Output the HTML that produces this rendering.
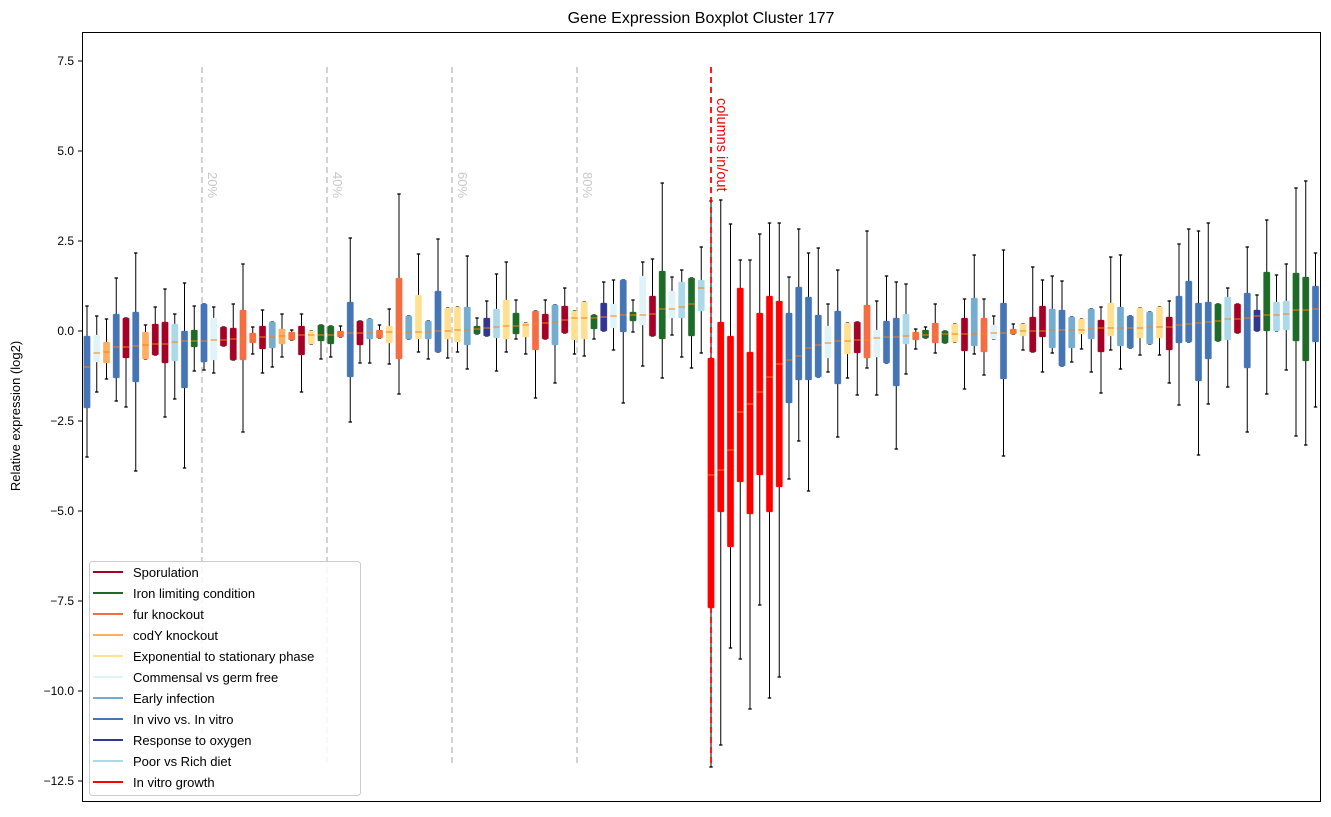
<!DOCTYPE html>
<html><head><meta charset="utf-8"><style>
body{margin:0;background:#fff;}
svg text{font-family:"Liberation Sans","DejaVu Sans",sans-serif;}
</style></head><body>
<svg id="s" width="1331" height="812" xmlns="http://www.w3.org/2000/svg">
<rect x="0" y="0" width="1331" height="812" fill="#fff"/>
<text x="701" y="23" font-size="16" text-anchor="middle" fill="#000">Gene Expression Boxplot Cluster 177</text>
<g id="grid"></g>
<g id="boxes"></g>
<g stroke="#000" stroke-width="1">
<line x1="78" y1="61" x2="82" y2="61"/><line x1="78" y1="151" x2="82" y2="151"/><line x1="78" y1="241" x2="82" y2="241"/><line x1="78" y1="331" x2="82" y2="331"/><line x1="78" y1="421" x2="82" y2="421"/><line x1="78" y1="511" x2="82" y2="511"/><line x1="78" y1="601" x2="82" y2="601"/><line x1="78" y1="691" x2="82" y2="691"/><line x1="78" y1="781" x2="82" y2="781"/>
</g>
<g font-size="12" text-anchor="end" fill="#000">
<text x="74" y="65">7.5</text><text x="74" y="155">5.0</text><text x="74" y="245">2.5</text><text x="74" y="335">0.0</text><text x="74" y="425">−2.5</text><text x="74" y="515">−5.0</text><text x="74" y="605">−7.5</text><text x="74" y="695">−10.0</text><text x="74" y="785">−12.5</text>
</g>
<text transform="translate(20,416) rotate(-90)" font-size="13" text-anchor="middle">Relative expression (log2)</text>
<g font-size="13" fill="#c8c8c8">
<text transform="translate(208,172) rotate(90)">20%</text>
<text transform="translate(333,172) rotate(90)">40%</text>
<text transform="translate(458,172) rotate(90)">60%</text>
<text transform="translate(583,172) rotate(90)">80%</text>
</g>
<text transform="translate(717,98) rotate(90)" font-size="14.5" fill="#ff0000">columns in/out</text>
<rect x="82.5" y="32.5" width="1238" height="769" fill="none" stroke="#000" stroke-width="1"/>
<g>
<rect x="89.5" y="561.5" width="271" height="234" rx="3" fill="#fff" fill-opacity="0.85" stroke="#ccc"/>
<g stroke-width="2">
<line x1="93" y1="572" x2="123" y2="572" stroke="#a50026"/>
<line x1="93" y1="593" x2="123" y2="593" stroke="#1e6b28"/>
<line x1="93" y1="614" x2="123" y2="614" stroke="#f46d43"/>
<line x1="93" y1="635" x2="123" y2="635" stroke="#fdae61"/>
<line x1="93" y1="656" x2="123" y2="656" stroke="#fee090"/>
<line x1="93" y1="677" x2="123" y2="677" stroke="#e0f3f8"/>
<line x1="93" y1="698" x2="123" y2="698" stroke="#74add1"/>
<line x1="93" y1="719" x2="123" y2="719" stroke="#4575b4"/>
<line x1="93" y1="740" x2="123" y2="740" stroke="#313695"/>
<line x1="93" y1="761" x2="123" y2="761" stroke="#abd9e9"/>
<line x1="93" y1="782" x2="123" y2="782" stroke="#ff0000"/>
</g>
<g font-size="13" fill="#000">
<text x="133" y="577">Sporulation</text>
<text x="133" y="598">Iron limiting condition</text>
<text x="133" y="619">fur knockout</text>
<text x="133" y="640">codY knockout</text>
<text x="133" y="661">Exponential to stationary phase</text>
<text x="133" y="682">Commensal vs germ free</text>
<text x="133" y="703">Early infection</text>
<text x="133" y="724">In vivo vs. In vitro</text>
<text x="133" y="745">Response to oxygen</text>
<text x="133" y="766">Poor vs Rich diet</text>
<text x="133" y="787">In vitro growth</text>
</g>
</g>
</svg>
<script>
var C={R:"#a50026",G:"#1e6b28",O:"#f46d43",L:"#fdae61",Y:"#fee090",C:"#e0f3f8",M:"#74add1",B:"#4575b4",N:"#313695",P:"#abd9e9",X:"#ff0000"};
var D=`B 336 408 367 306 457
C 335 362 353 316 392
L 342 363 352 319 379
B 314 378 347 278 401
R 318 358 347 318 407
B 312 382 346 253 471
L 332 359 345 325 359
R 324 355 344 307 355
R 322 363 344 289 417
P 324 361 342 314 399
B 331 388 341 283 468
G 330 347 341 306 371
B 304 362 341 304 370
C 318 360 340 307 373
R 327 346 340 327 346
R 328 360 339 304 360
O 310 360 338 264 432
O 333 343 338 327 354
R 326 349 337 310 373
M 322 348 337 322 367
L 329 344 336 314 357
O 332 340 336 330 340
R 326 355 335 314 392
Y 331 344 335 331 344
G 325 341 335 325 359
G 326 344 335 326 357
O 331 337 333 326 337
B 302 377 333 238 422
R 321 345 333 321 363
M 319 339 333 319 363
O 330 338 333 325 338
Y 326 343 332 309 364
O 278 359 332 194 394
M 316 339 332 316 339
Y 295 339 332 254 352
M 321 339 332 321 359
B 291 352 331 239 352
Y 308 339 331 308 358
Y 307 342 330 307 352
M 307 345 330 256 369
G 326 334 329 318 334
N 318 336 328 301 336
P 309 338 327 274 371
Y 300 339 326 262 352
G 313 334 326 300 339
Y 323 337 325 323 354
O 311 350 324 311 398
R 314 339 323 300 339
M 305 345 322 305 383
R 306 333 320 288 333
Y 311 340 318 311 354
Y 302 339 318 302 356
G 315 329 318 315 339
N 303 331 317 282 331
C 304 328 316 280 350
B 280 332 315 280 403
G 312 321 315 300 332
C 276 325 315 262 366
R 296 336 314 259 336
G 271 339 309 183 378
C 291 318 309 277 335
P 282 318 307 270 357
G 278 336 304 278 368
P 280 311 288 247 353
X 358 608 475 201 767
X 322 512 470 200 745
X 336 547 450 224 648
X 288 482 412 260 659
X 352 514 404 260 709
X 313 475 392 234 605
X 296 512 377 223 698
X 301 487 364 223 677
B 313 403 360 277 479
B 287 380 356 229 441
B 297 380 348 253 491
B 315 377 345 248 377
C 326 358 343 304 372
B 311 384 341 270 437
Y 323 354 341 323 378
R 322 353 340 322 395
O 305 358 340 231 368
C 330 357 338 301 395
B 321 363 337 276 363
B 318 386 337 282 449
P 314 344 336 284 374
O 332 340 335 329 349
G 330 338 335 327 338
O 323 343 335 304 353
G 331 343 334 331 343
Y 324 342 334 324 342
R 318 351 334 299 389
M 298 346 334 255 354
O 318 352 334 299 375
C 325 339 333 316 339
B 303 379 333 250 456
O 329 334 332 324 334
Y 324 336 331 324 350
R 317 352 331 267 352
R 306 337 331 280 372
M 309 348 330 276 353
B 310 366 330 281 366
M 317 348 330 317 362
Y 319 334 330 319 349
M 309 339 329 309 372
R 320 352 328 307 393
Y 303 336 328 257 350
M 307 346 328 255 369
B 316 348 328 316 348
Y 308 338 328 308 355
M 312 344 327 312 344
Y 307 338 327 307 355
R 317 350 327 301 383
B 296 343 325 244 405
B 281 342 324 229 342
B 303 381 323 231 455
B 302 359 322 223 404
G 304 341 321 304 341
P 297 340 319 288 387
R 304 333 319 304 333
B 293 368 318 247 432
N 310 331 316 295 331
G 272 331 315 220 394
P 302 331 315 275 331
P 301 330 314 264 370
G 273 341 310 188 436
G 277 361 310 181 445
B 286 342 309 253 407`.split("\n");
var s="";
var g="";
[202,327,452,577].forEach(function(x){g+='<line x1="'+x+'" y1="67" x2="'+x+'" y2="766" stroke="#c8c8c8" stroke-width="1.6" stroke-dasharray="6,4"/>';});
D.forEach(function(r,i){var a=r.trim().split(/\s+/);var c=C[a[0]];var t=+a[1],b=+a[2],m=+a[3],h=+a[4],l=+a[5];
var x=87+i*9.75;
s+='<line x1="'+x+'" y1="'+h+'" x2="'+x+'" y2="'+l+'" stroke="#000" stroke-width="1"/>';
s+='<line x1="'+(x-1.7)+'" y1="'+h+'" x2="'+(x+1.7)+'" y2="'+h+'" stroke="#000" stroke-width="1.3"/>';
s+='<line x1="'+(x-1.7)+'" y1="'+l+'" x2="'+(x+1.7)+'" y2="'+l+'" stroke="#000" stroke-width="1.3"/>';
s+='<rect x="'+(x-3.2)+'" y="'+t+'" width="6.4" height="'+Math.max(b-t,1)+'" rx="1" fill="'+c+'" stroke="'+c+'" stroke-opacity="0.4" stroke-width="0.8"/>';
s+='<line x1="'+(x-3.2)+'" y1="'+m+'" x2="'+(x+3.2)+'" y2="'+m+'" stroke="#ff7f0e" stroke-width="1"/>';
});
s+='<line x1="711" y1="67" x2="711" y2="767" stroke="#ff0000" stroke-width="1.8" stroke-dasharray="6,4"/>';
document.getElementById("grid").innerHTML=g;
document.getElementById("boxes").innerHTML=s;
</script>
</body></html>
